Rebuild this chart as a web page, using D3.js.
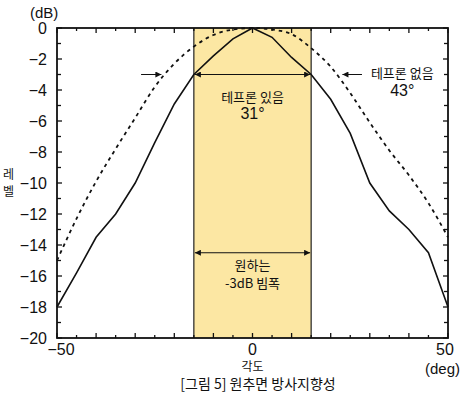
<!DOCTYPE html>
<html>
<head>
<meta charset="utf-8">
<script src="https://cdn.jsdelivr.net/npm/d3@7"></script>
<style>
  body { margin: 0; background: #fff; }
  text { font-family: 'Liberation Sans', Arial, sans-serif; fill: #111; }
  .kr { font-family: 'Noto Sans CJK KR', sans-serif; }
</style>
</head>
<body>
<div id="chart"></div>
<script>
// angles (deg) and measured levels (dB)
const angles = [-50, -45, -40, -35, -30, -25, -20, -15, -10, -5, 0, 5, 10, 15, 20, 25, 30, 35, 40, 45, 50]
const withTeflon = [-18, -15.8, -13.5, -12, -10, -7.4, -4.9, -3, -1.8, -0.7, 0, -0.6, -1.9, -3, -4.6, -6.8, -10, -11.8, -13, -14.5, -18]
const withoutTeflon = [-15, -12.3, -9.9, -7.8, -5.8, -3.8, -2.3, -1.2, -0.45, -0.1, 0, -0.1, -0.4, -1.3, -2.5, -4.2, -6.1, -7.9, -9.5, -11.3, -13.5]
const beamBand = [-15, 15]
const xTicks = [-50, 0, 50]
const yTicks = [0, -2, -4, -6, -8, -10, -12, -14, -16, -18, -20]

function renderChart(selector, svgWidth, svgHeight) {
  const margin = {top: 28, right: 18, bottom: 57, left: 57}
  const width = svgWidth - margin.left - margin.right
  const height = svgHeight - margin.top - margin.bottom

  const svg = d3.select(selector).append('svg')
    .attr('width', svgWidth)
    .attr('height', svgHeight)

  const g = svg.append('g')
    .attr('transform', 'translate(' + margin.left + ',' + margin.top + ')')

  const x = d3.scaleLinear().domain([-50, 50]).range([0, width])
  const y = d3.scaleLinear().domain([-20, 0]).range([height, 0])

  // desired -3dB beam band
  g.append('rect')
    .attr('x', x(beamBand[0]))
    .attr('y', 0)
    .attr('width', x(beamBand[1]) - x(beamBand[0]))
    .attr('height', height)
    .attr('fill', '#fce7a3')
  g.selectAll('.band-edge')
    .data(beamBand)
    .enter().append('line')
    .attr('x1', d => x(d)).attr('x2', d => x(d))
    .attr('y1', 0).attr('y2', height)
    .attr('stroke', '#222')
    .attr('stroke-width', 1.2)

  // inward ticks on all four sides
  const xMinor = d3.range(-50, 51, 5)
  const yMinor = d3.range(-20, 1, 1)
  const tickG = g.append('g').attr('stroke', '#111').attr('stroke-width', 1.3)
  xMinor.forEach(v => {
    const len = v % 10 === 0 ? 5 : 3
    tickG.append('line').attr('x1', x(v)).attr('x2', x(v)).attr('y1', height).attr('y2', height - len)
    tickG.append('line').attr('x1', x(v)).attr('x2', x(v)).attr('y1', 0).attr('y2', len)
  })
  yMinor.forEach(v => {
    const len = v % 2 === 0 ? 5 : 4
    tickG.append('line').attr('x1', 0).attr('x2', len).attr('y1', y(v)).attr('y2', y(v))
    tickG.append('line').attr('x1', width).attr('x2', width - len).attr('y1', y(v)).attr('y2', y(v))
  })

  // curves
  const pts = vals => angles.map((a, i) => ({a: a, v: vals[i]}))
  const line = d3.line().x(d => x(d.a)).y(d => y(d.v))

  g.append('path')
    .datum(pts(withoutTeflon))
    .attr('fill', 'none')
    .attr('stroke', '#111')
    .attr('stroke-width', 1.8)
    .attr('stroke-dasharray', '3.5,4')
    .attr('d', line.curve(d3.curveMonotoneX))

  g.append('path')
    .datum(pts(withTeflon))
    .attr('fill', 'none')
    .attr('stroke', '#111')
    .attr('stroke-width', 1.6)
    .attr('d', line.curve(d3.curveLinear))

  // frame
  g.append('rect')
    .attr('width', width).attr('height', height)
    .attr('fill', 'none')
    .attr('stroke', '#111')
    .attr('stroke-width', 1.8)

  // arrowheads
  const defs = svg.append('defs')
  defs.append('marker')
    .attr('id', 'arr')
    .attr('viewBox', '0 0 10 10')
    .attr('refX', 10).attr('refY', 5)
    .attr('markerWidth', 9).attr('markerHeight', 6)
    .attr('markerUnits', 'userSpaceOnUse')
    .attr('orient', 'auto-start-reverse')
    .append('path').attr('d', 'M0,0L10,5L0,10z').attr('fill', '#111')

  function arrow(x1, x2, yv, both) {
    const l = g.append('line')
      .attr('x1', x1).attr('x2', x2)
      .attr('y1', y(yv)).attr('y2', y(yv))
      .attr('stroke', '#111').attr('stroke-width', 1)
      .attr('marker-end', 'url(#arr)')
    if (both) l.attr('marker-start', 'url(#arr)')
  }
  arrow(x(beamBand[0]) + 1, x(beamBand[1]) - 1, -3, true)
  arrow(x(beamBand[0]) + 1, x(beamBand[1]) - 1, -14.5, true)
  arrow(x(-28.5), x(-23.3), -3, false)
  arrow(x(28), x(23), -3, false)

  // annotations
  const note = (tx, ty, str, size, cls) => g.append('text')
    .attr('class', cls || 'kr')
    .attr('x', tx).attr('y', ty)
    .attr('text-anchor', 'middle')
    .attr('font-size', size)
    .text(str)
  note(x(0), y(-4.75), '테프론 있음', 13)
  note(x(0), y(-5.9), '31°', 16, 'num')
  note(x(38.3), y(-3.25), '테프론 없음', 13)
  note(x(38.3), y(-4.4), '43°', 16, 'num')
  note(x(0), y(-15.6), '원하는', 13)
  note(x(0), y(-16.75), '-3dB 빔폭', 13)

  // axis labels
  g.selectAll('.ylab')
    .data(yTicks)
    .enter().append('text')
    .attr('x', -10)
    .attr('y', d => y(d))
    .attr('dy', '0.36em')
    .attr('text-anchor', 'end')
    .attr('font-size', 16)
    .text(d => d === 0 ? '0' : '−' + Math.abs(d))

  g.selectAll('.xlab')
    .data(xTicks)
    .enter().append('text')
    .attr('x', d => x(d) + (d === 50 ? -3 : d === -50 ? 4 : 0))
    .attr('y', height + 17)
    .attr('text-anchor', 'middle')
    .attr('font-size', 16)
    .text(d => d < 0 ? '−' + Math.abs(d) : d)

  svg.append('text').attr('x', 30).attr('y', 18).attr('font-size', 15).text('(dB)')
  svg.append('text').attr('x', 425).attr('y', 374).attr('font-size', 15).text('(deg)')
  svg.append('text').attr('class', 'kr').attr('x', 3).attr('y', 179).attr('font-size', 12).text('레')
  svg.append('text').attr('class', 'kr').attr('x', 3).attr('y', 196).attr('font-size', 12).text('벨')
  svg.append('text').attr('class', 'kr').attr('x', margin.left + x(0)).attr('y', 371)
    .attr('text-anchor', 'middle').attr('font-size', 12).text('각도')
  svg.append('text').attr('class', 'kr').attr('x', 258).attr('y', 389)
    .attr('text-anchor', 'middle').attr('font-size', 14).text('[그림 5] 원추면 방사지향성')
}

renderChart('#chart', 466, 395)
</script>
</body>
</html>
